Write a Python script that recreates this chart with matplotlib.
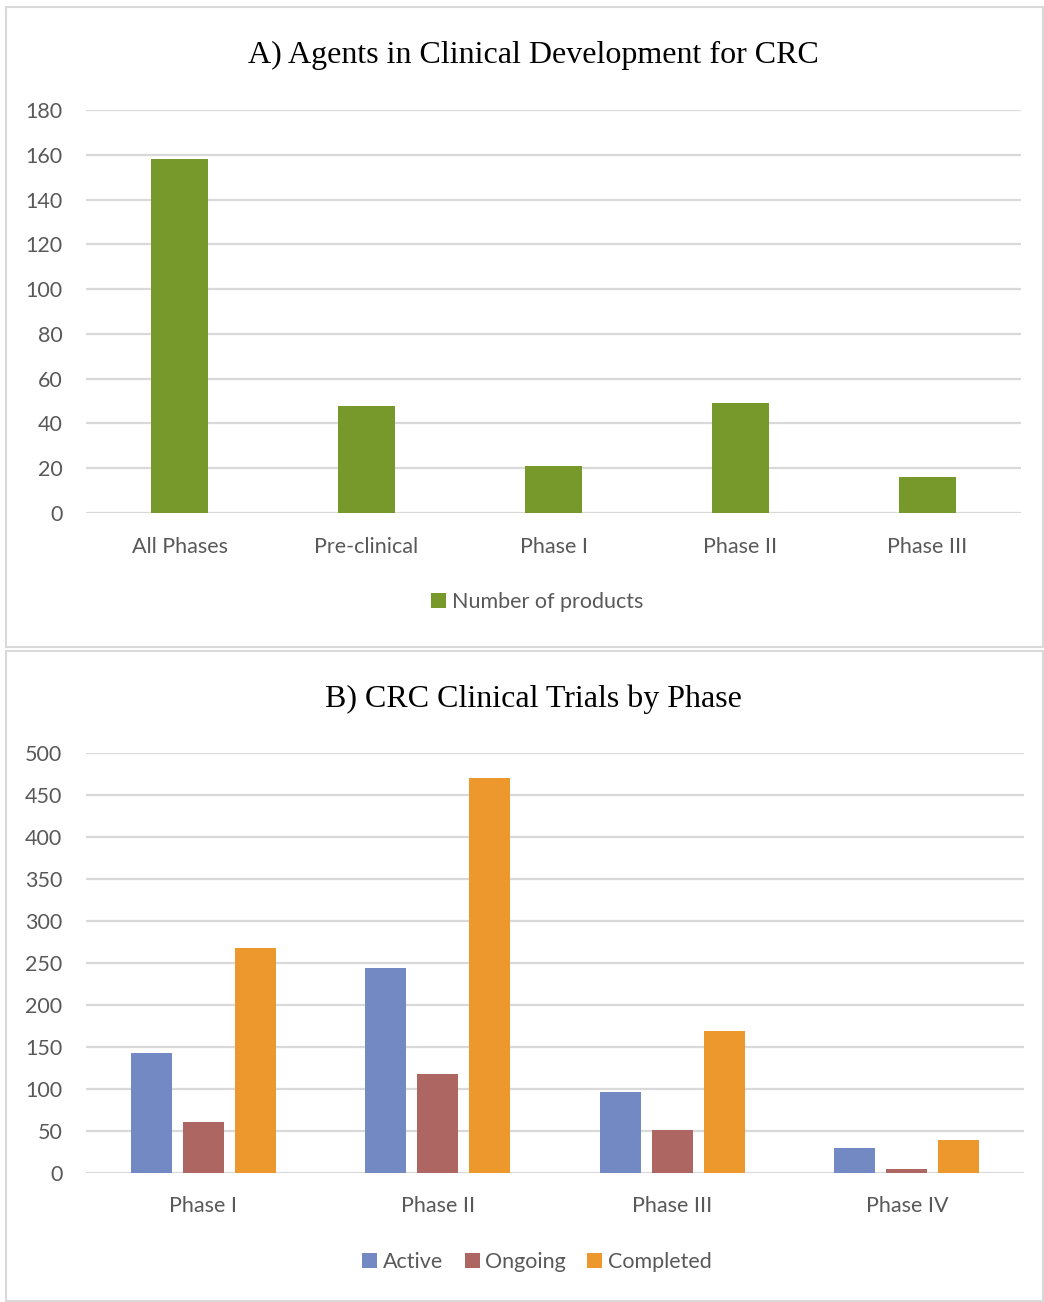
import matplotlib.pyplot as plt
from matplotlib.patches import Rectangle
import numpy as np

# panel A data
stages = ["All Phases", "Pre-clinical", "Phase I", "Phase II", "Phase III"]
products = [158, 48, 21, 49, 16]

# panel B data
trial_phases = ["Phase I", "Phase II", "Phase III", "Phase IV"]
active = [142, 244, 96, 30]
ongoing = [60, 117, 51, 5]
completed = [268, 470, 169, 39]

green = "#77982A"
blue = "#7389C3"
red = "#AE6662"
orange = "#EC982C"
grid_c = "#D9D9D9"
txt_c = "#595959"

plt.rcParams['font.family'] = ['Lato', 'DejaVu Sans']

W, H = 1044, 1302
fig = plt.figure(figsize=(W / 100, H / 100), dpi=100)

# panel borders
for (x0, y0, x1, y1) in [(6, 7, 1043, 647), (6, 651, 1043, 1301)]:
    fig.patches.append(Rectangle((x0 / W, 1 - y1 / H), (x1 - x0) / W, (y1 - y0) / H,
                                 transform=fig.transFigure, fill=False,
                                 edgecolor="#D9D9D9", linewidth=1.5))


def style(ax):
    for s in ax.spines.values():
        s.set_visible(False)
    ax.grid(axis="y", color=grid_c, linewidth=1.6)
    ax.set_axisbelow(True)
    ax.tick_params(axis="both", length=0, labelsize=15.5, labelcolor=txt_c)
    ax.tick_params(axis="y", pad=17)
    ax.tick_params(axis="x", pad=17)


# ---- A ----
ax1 = fig.add_axes([86 / W, 1 - 513 / H, (1021 - 86) / W, (513 - 110) / H])
x = np.arange(len(stages))
ax1.bar(x, products, width=0.31, color=green, label="Number of products")
ax1.set_xlim(-0.5, len(stages) - 0.5)
ax1.set_ylim(0, 180)
ax1.set_yticks(np.arange(0, 181, 20))
ax1.set_xticks(x)
ax1.set_xticklabels(stages)
style(ax1)
fig.text(533 / W, 1 - 55 / H, "A) Agents in Clinical Development for CRC",
         family="Liberation Serif", fontsize=23, ha="center", va="center", color="black")
ax1.legend(loc="center", bbox_to_anchor=(537 / W, 1 - 602 / H), bbox_transform=fig.transFigure,
           frameon=False, fontsize=15.5, labelcolor=txt_c, handlelength=0.7, handleheight=0.7,
           handletextpad=0.25)

# ---- B ----
ax2 = fig.add_axes([86 / W, 1 - 1172.7 / H, (1024 - 86) / W, 420 / H])
x2 = np.arange(len(trial_phases))
bw = 0.175
step = 0.222
ax2.bar(x2 - step, active, width=bw, color=blue, label="Active")
ax2.bar(x2, ongoing, width=bw, color=red, label="Ongoing")
ax2.bar(x2 + step, completed, width=bw, color=orange, label="Completed")
ax2.set_xlim(-0.5, len(trial_phases) - 0.5)
ax2.set_ylim(0, 500)
ax2.set_yticks(np.arange(0, 501, 50))
ax2.set_xticks(x2)
ax2.set_xticklabels(trial_phases)
style(ax2)
fig.text(533 / W, 1 - 699 / H, "B) CRC Clinical Trials by Phase",
         family="Liberation Serif", fontsize=23, ha="center", va="center", color="black")
ax2.legend(loc="center", bbox_to_anchor=(537 / W, 1 - 1262 / H), bbox_transform=fig.transFigure,
           ncol=3, frameon=False, fontsize=15.5, labelcolor=txt_c, handlelength=0.7,
           handleheight=0.7, handletextpad=0.25, columnspacing=1.0)

fig.savefig("out.png", dpi=100)
